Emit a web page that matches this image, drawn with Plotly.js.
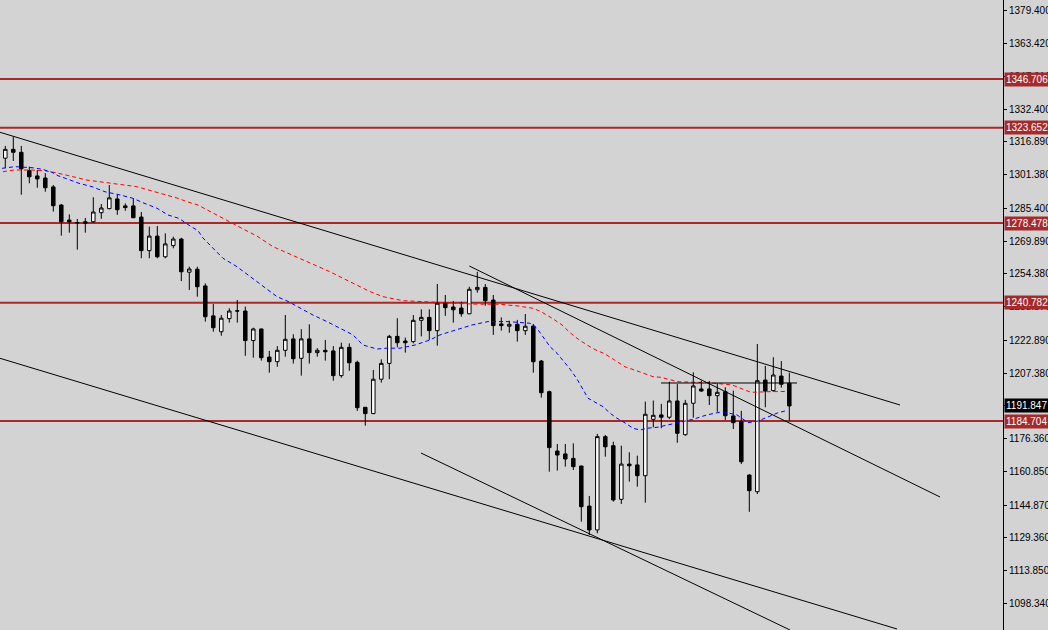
<!DOCTYPE html>
<html>
<head>
<meta charset="utf-8">
<script src="https://cdn.plot.ly/plotly-3.0.1.min.js"></script>
<style>
html,body{margin:0;padding:0;background:#d3d3d3;}
#chart{width:1048px;height:630px;}
</style>
</head>
<body>
<div id="chart"></div>
<script>
// OHLC values (one entry per bar, oldest first)
const openP  = [1309.2,1313.4,1312.0,1303.3,1300.8,1299.8,1295.6,1287.0,1279.9,1278.7,
                1279.1,1279.1,1283.4,1285.3,1289.9,1286.6,1286.6,1281.3,1265.4,1272.3,
                1262.5,1267.8,1270.9,1255.2,1256.6,1248.7,1234.5,1227.0,1233.2,1236.9,
                1236.8,1222.8,1228.3,1215.0,1212.8,1218.2,1223.6,1214.4,1223.6,1217.1,
                1218.2,1217.9,1206.2,1219.6,1212.5,1191.2,1188.2,1204.5,1212.0,1224.8,
                1222.6,1222.3,1232.4,1233.8,1227.5,1240.5,1238.7,1238.2,1235.5,1246.9,
                1248.0,1242.0,1230.7,1229.6,1230.5,1227.5,1229.7,1213.1,1198.6,1170.5,
                1169.1,1167.0,1163.4,1144.4,1133.1,1177.3,1173.0,1147.6,1164.3,1163.9,
                1158.8,1185.5,1187.6,1186.5,1194.2,1178.2,1193.1,1199.9,1199.9,1196.7,
                1198.6,1187.1,1184.4,1159.1,1151.2,1204.1,1199.1,1206.0,1202.6];
const highP  = [1315.0,1319.4,1315.0,1305.2,1303.6,1302.1,1296.5,1287.5,1282.6,1280.4,
                1280.9,1290.7,1287.5,1296.5,1291.8,1287.8,1289.9,1283.7,1276.8,1277.1,
                1273.6,1272.0,1271.5,1257.8,1257.8,1249.9,1240.1,1234.9,1238.1,1242.0,
                1238.9,1228.9,1228.5,1217.9,1220.2,1234.9,1225.8,1228.2,1230.5,1219.2,
                1223.1,1220.2,1221.8,1221.5,1213.3,1191.3,1208.9,1213.9,1225.5,1233.4,
                1224.2,1234.9,1237.6,1237.6,1249.6,1244.4,1241.6,1241.2,1248.3,1255.4,
                1249.6,1244.4,1233.8,1232.2,1232.6,1235.4,1230.7,1213.6,1199.1,1173.8,
                1173.8,1174.1,1163.5,1149.2,1178.6,1178.1,1174.9,1173.0,1169.9,1168.3,
                1193.9,1194.4,1192.8,1203.3,1202.2,1194.7,1207.8,1203.8,1203.7,1202.6,
                1200.7,1199.1,1189.5,1159.5,1221.2,1210.8,1214.9,1213.1,1207.6];
const lowP   = [1304.6,1307.9,1291.9,1297.3,1295.2,1293.3,1283.9,1272.5,1273.9,1265.9,
                1273.9,1278.6,1280.5,1285.0,1282.4,1284.3,1280.8,1261.8,1261.8,1261.8,
                1261.8,1266.5,1251.0,1246.8,1243.6,1231.8,1227.0,1225.1,1231.3,1231.3,
                1215.6,1214.7,1213.3,1207.6,1210.4,1215.2,1211.9,1206.2,1211.9,1215.2,
                1213.3,1203.8,1205.2,1208.5,1189.5,1182.5,1188.0,1202.9,1204.5,1219.6,
                1217.1,1221.5,1224.8,1223.1,1220.4,1234.5,1231.3,1234.1,1235.3,1245.5,
                1239.3,1225.5,1227.5,1226.5,1222.3,1225.5,1207.6,1195.8,1160.7,1161.2,
                1163.1,1161.5,1137.0,1130.7,1131.5,1167.8,1146.5,1145.4,1156.0,1153.6,
                1146.0,1181.7,1181.3,1185.7,1174.4,1177.7,1186.3,1198.6,1192.3,1189.1,
                1185.2,1180.9,1164.3,1141.7,1150.1,1191.2,1198.6,1200.5,1184.9];
const closeP = [1313.4,1312.0,1304.2,1300.4,1299.4,1295.2,1286.7,1279.1,1279.1,1278.6,
                1278.4,1283.7,1285.6,1290.4,1284.8,1285.8,1281.0,1265.4,1272.3,1262.5,
                1268.6,1270.9,1255.4,1256.7,1248.3,1234.1,1228.9,1233.4,1236.8,1236.8,
                1222.8,1228.3,1214.7,1212.8,1218.2,1223.4,1214.2,1223.6,1217.1,1218.2,
                1217.5,1206.2,1219.6,1212.3,1191.0,1188.2,1204.5,1212.0,1224.8,1221.8,
                1221.8,1232.4,1233.8,1227.5,1240.5,1238.4,1237.4,1235.5,1247.1,1248.0,
                1241.7,1229.9,1229.9,1230.5,1227.5,1229.6,1212.8,1198.1,1172.1,1168.6,
                1166.7,1163.1,1144.1,1133.1,1177.3,1172.5,1147.3,1164.3,1163.5,1158.8,
                1187.9,1187.4,1186.5,1194.2,1178.9,1193.1,1201.3,1198.9,1196.7,1198.3,
                1187.2,1183.9,1165.4,1151.7,1203.8,1198.9,1206.5,1202.1,1191.847];

// Moving averages (bar position, value)
const redMaX = [-0.29,1.09,3.21,4.84,6.34,7.71,8.96,10.09,11.84,13.46,15.21,16.46,17.46,18.71,19.96,21.59,22.71,24.09,
                29.96,31.46,33.46,35.21,36.84,38.96,40.59,42.21,43.96,45.59,47.21,49.71,53.09,56.59,58.46,61.84,64.09,
                65.96,66.96,68.34,69.59,70.46,71.46,72.71,73.84,74.96,75.96,77.46,79.21,80.96,81.96,84.09,87.71,90.84,
                92.46,93.21,95.59,97.59];
const redMaY = [1302.8,1303.6,1303.6,1303.3,1302.3,1301.2,1300.0,1298.9,1298.1,1297.3,1296.5,1295.7,1294.6,1293.3,1291.8,1290.2,1288.6,1287.0,
                1275.2,1272.3,1267.3,1264.4,1261.8,1258.1,1255.4,1252.3,1249.1,1246.0,1243.6,1241.7,1241.1,1240.5,1240.1,1240.0,1239.2,
                1238.1,1236.5,1233.4,1230.2,1227.0,1223.9,1220.7,1218.3,1216.5,1213.9,1210.4,1208.1,1205.7,1205.4,1203.3,1202.9,1201.8,
                1199.4,1198.3,1198.6,1198.7];
const blueMaX = [-0.41,1.21,3.34,4.71,5.84,6.59,7.71,9.21,10.84,12.46,14.34,15.96,17.21,18.96,20.34,21.71,23.21,24.09,24.71,
                 25.96,27.21,28.96,30.59,32.21,33.96,35.21,36.84,38.46,40.21,41.84,43.46,44.71,46.46,47.71,49.34,51.21,53.09,
                 54.34,56.46,58.34,60.34,62.84,65.59,66.46,67.21,68.09,68.96,69.71,70.59,71.46,72.21,72.84,73.96,74.71,75.59,
                 76.46,77.21,78.46,79.34,80.21,81.46,83.34,85.96,87.71,89.59,91.46,92.84,94.09,95.34,96.59,97.59];
const blueMaY = [1304.4,1305.2,1304.7,1303.9,1302.5,1300.9,1299.4,1297.3,1295.7,1293.3,1291.8,1290.2,1288.1,1285.5,1282.3,1280.7,1276.8,1274.9,1271.4,
                 1266.5,1261.8,1257.8,1253.1,1248.3,1243.6,1241.6,1238.1,1234.9,1231.8,1228.6,1225.5,1220.7,1218.8,1219.2,1219.2,1220.7,1223.1,
                 1225.5,1227.8,1230.2,1231.8,1231.8,1231.0,1228.6,1224.6,1219.9,1216.8,1213.4,1209.3,1204.6,1199.4,1195.5,1193.1,1191.5,1188.4,
                 1186.0,1184.4,1181.3,1180.4,1181.3,1181.7,1183.3,1185.5,1187.6,1189.1,1187.6,1183.9,1184.7,1186.7,1188.6,1189.6];

// Horizontal price levels and their labels
const levelValues = [1346.706, 1323.652, 1278.478, 1240.782, 1184.704];
const levelLabels = ["1346.706", "1323.652", "1278.478", "1240.782", "1184.704"];
const lastPrice = 1191.847;
const lastPriceLabel = "1191.847";

// Trend lines (bar position, price)
const trendX0 = [-0.66, 58.0, -0.66, 51.96, 81.96];
const trendY0 = [1321.47, 1258.13, 1214.41, 1169.55, 1202.71];
const trendX1 = [111.84, 116.84, 111.46, 98.09, 98.96];
const trendY1 = [1192.29, 1148.71, 1086.18, 1085.70, 1202.71];

// Price axis ticks
const tickValues = [1379.400,1363.420,1347.910,1332.400,1316.890,1301.380,1285.400,1269.890,1254.380,1238.870,
                    1222.890,1207.380,1191.870,1176.360,1160.850,1144.870,1129.360,1113.850,1098.340];
const tickLabels = tickValues.map(v => v.toFixed(3));

const barIdx = openP.map((_, i) => i);

const levelColor = '#a52a2a';
const bg = '#d3d3d3';

const traces = [
  {
    type: 'scatter', mode: 'lines', x: redMaX, y: redMaY,
    line: {color: '#ff0000', width: 1, dash: '4px,3px'}, hoverinfo: 'skip', showlegend: false
  },
  {
    type: 'scatter', mode: 'lines', x: blueMaX, y: blueMaY,
    line: {color: '#0000ff', width: 1, dash: '4px,3px'}, hoverinfo: 'skip', showlegend: false
  },
  {
    type: 'candlestick', x: barIdx, open: openP, high: highP, low: lowP, close: closeP,
    increasing: {line: {color: '#000000', width: 1}, fillcolor: '#ffffff'},
    decreasing: {line: {color: '#000000', width: 1}, fillcolor: '#000000'},
    whiskerwidth: 0, hoverinfo: 'skip', showlegend: false
  }
];

const shapes = [];
levelValues.forEach(v => {
  shapes.push({type: 'line', xref: 'paper', yref: 'y', x0: 0, x1: 1, y0: v, y1: v,
               line: {color: levelColor, width: 2}, layer: 'below'});
});
trendX0.forEach((x0, i) => {
  shapes.push({type: 'line', xref: 'x', yref: 'y', x0: x0, y0: trendY0[i], x1: trendX1[i], y1: trendY1[i],
               line: {color: '#000000', width: 1}, layer: 'above'});
});

const annotations = [];
levelValues.forEach((v, i) => {
  annotations.push({xref: 'paper', yref: 'y', x: 1, y: v, xanchor: 'left', yanchor: 'middle', xshift: 1,
    text: levelLabels[i], showarrow: false, bgcolor: levelColor, borderpad: 1,
    font: {family: 'Liberation Sans, Arial, sans-serif', size: 10, color: '#ffffff'}});
});
annotations.push({xref: 'paper', yref: 'y', x: 1, y: lastPrice, xanchor: 'left', yanchor: 'middle', xshift: 1,
  text: lastPriceLabel, showarrow: false, bgcolor: '#000000', borderpad: 1,
  font: {family: 'Liberation Sans, Arial, sans-serif', size: 10, color: '#ffffff'}});

const layout = {
  width: 1048, height: 630,
  margin: {l: 0, r: 45, t: 0, b: 0, pad: 0},
  paper_bgcolor: bg, plot_bgcolor: bg,
  showlegend: false,
  boxgap: 0.38,
  xaxis: {range: [-0.6625, 124.71], showgrid: false, zeroline: false, showticklabels: false,
          showline: false, ticks: '', rangeslider: {visible: false}, fixedrange: true},
  yaxis: {side: 'right', range: [1085.70, 1384.14], showgrid: false, zeroline: false,
          showline: true, linecolor: '#000000', linewidth: 1,
          ticks: 'outside', ticklen: 3, tickcolor: '#000000', tickwidth: 1,
          tickmode: 'array', tickvals: tickValues, ticktext: tickLabels,
          tickfont: {family: 'Liberation Sans, Arial, sans-serif', size: 10, color: '#000000'},
          fixedrange: true},
  shapes: shapes,
  annotations: annotations,
  hovermode: false
};

Plotly.newPlot('chart', traces, layout, {displayModeBar: false, staticPlot: true});
</script>
</body>
</html>
